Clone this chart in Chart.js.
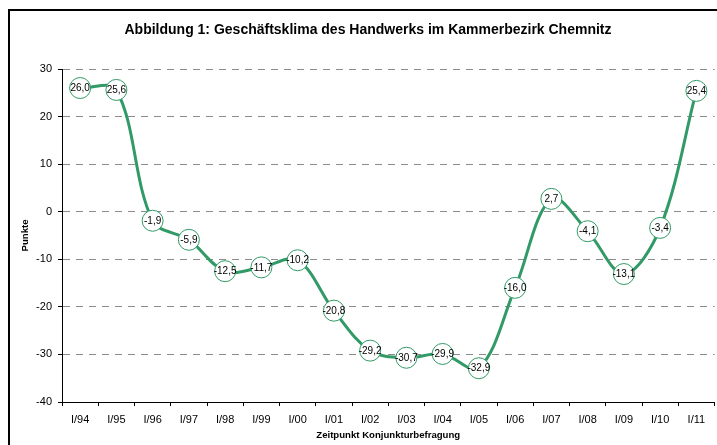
<!DOCTYPE html>
<html>
<head>
<meta charset="utf-8">
<script src="https://cdn.jsdelivr.net/npm/chart.js@4"></script>
<style>
  html, body { margin: 0; padding: 0; background: #fff; overflow: hidden; width: 717px; height: 445px; }
  #frame { position: absolute; left: 8px; top: 9px; border: 2px solid #000; width: 716px; height: 440px; }
  canvas { display: block; }
</style>
</head>
<body>
<div id="frame"><canvas id="c" width="716" height="440"></canvas></div>
<script>
const titleText = 'Abbildung 1: Geschäftsklima des Handwerks im Kammerbezirk Chemnitz';
const xAxisTitle = 'Zeitpunkt Konjunkturbefragung';
const yAxisTitle = 'Punkte';
const categories = ['I/94','I/95','I/96','I/97','I/98','I/99','I/00','I/01','I/02','I/03','I/04','I/05','I/06','I/07','I/08','I/09','I/10','I/11'];
const values = [26.0, 25.6, -1.9, -5.9, -12.5, -11.7, -10.2, -20.8, -29.2, -30.7, -29.9, -32.9, -16.0, 2.7, -4.1, -13.1, -3.4, 25.4];
const yMin = -40, yMax = 30, yStep = 10;

const FONT = '"Liberation Sans", Arial, sans-serif';
const GREEN = '#319A66';

const valueLabels = {
  id: 'valueLabels',
  afterDatasetsDraw(chart) {
    const ctx = chart.ctx;
    const meta = chart.getDatasetMeta(0);
    ctx.save();
    ctx.font = '10px ' + FONT;
    ctx.fillStyle = '#000';
    ctx.textAlign = 'center';
    ctx.textBaseline = 'middle';
    meta.data.forEach((pt, i) => {
      const v = chart.data.datasets[0].data[i];
      ctx.fillText(v.toFixed(1).replace('.', ','), pt.x, pt.y + 0.5);
    });
    ctx.restore();
  }
};

new Chart(document.getElementById('c'), {
  type: 'line',
  data: {
    labels: categories,
    datasets: [{
      data: values,
      borderColor: GREEN,
      borderWidth: 3,
      tension: 0.35,
      pointRadius: 10.5,
      pointBorderWidth: 1,
      pointBackgroundColor: '#fff',
      pointBorderColor: GREEN,
      fill: false
    }]
  },
  options: {
    responsive: false,
    animation: false,
    events: [],
    layout: { padding: 0 },
    plugins: {
      legend: { display: false },
      tooltip: { enabled: false },
      title: {
        display: true,
        text: titleText,
        color: '#000',
        font: { family: FONT, size: 14, weight: 'bold', lineHeight: 1.2 },
        padding: { top: 11, bottom: 30.2 }
      }
    },
    scales: {
      x: {
        offset: true,
        grid: { display: true, drawOnChartArea: false, offset: true, tickLength: 4, tickColor: '#000', color: '#000' },
        border: { display: true, color: '#000', width: 1 },
        ticks: { color: '#000', padding: 7, maxRotation: 0, autoSkip: false, font: { family: FONT, size: 11 } },
        title: { display: true, text: xAxisTitle, color: '#000', font: { family: FONT, size: 9.6, weight: 'bold', lineHeight: 1.2 }, padding: { top: 0, bottom: 10 } },
        afterFit(s) { s.height = 49; }
      },
      y: {
        min: yMin, max: yMax,
        ticks: { stepSize: yStep, color: '#000', padding: 6, font: { family: FONT, size: 11 } },
        grid: { color: '#8c8c8c', lineWidth: 1, tickLength: 4, tickColor: '#000', tickBorderDash: [] },
        border: { display: true, color: '#000', width: 1, dash: [7, 6] },
        title: { display: true, text: yAxisTitle, color: '#000', font: { family: FONT, size: 9.6, weight: 'bold', lineHeight: 1.2 }, padding: { top: 9.2, bottom: 0 } },
        afterFit(s) { s.width = 52; }
      },
      y2: {
        type: 'linear',
        position: 'right',
        display: true,
        ticks: { display: false },
        grid: { drawOnChartArea: false, drawTicks: false },
        border: { display: false },
        afterFit(s) { s.width = 8; }
      }
    }
  },
  plugins: [valueLabels]
});
</script>
</body>
</html>
